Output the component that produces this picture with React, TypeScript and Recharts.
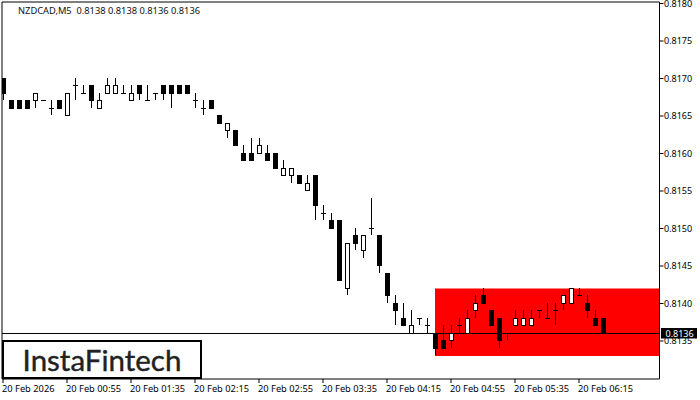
import { Bar, ComposedChart, ReferenceArea, ReferenceLine, XAxis, YAxis } from "recharts";

const opens = [
  0.8170, 0.8167, 0.8167, 0.8167, 0.8167, 0.8167, 0.8166, 0.8167, 0.8165, 0.8169,
  0.8168, 0.8169, 0.8166, 0.8168, 0.8168, 0.8168, 0.8167, 0.8169, 0.8167, 0.8168,
  0.8169, 0.8169, 0.8169, 0.8169, 0.8167, 0.8166, 0.8167, 0.8165, 0.8163, 0.8163,
  0.8160, 0.8160, 0.8160, 0.8160, 0.8160, 0.8157, 0.8157, 0.8157, 0.8155, 0.8157,
  0.8152, 0.8151, 0.8151, 0.8142, 0.8149, 0.8147, 0.8150, 0.8149, 0.8144, 0.8140,
  0.8138, 0.8136, 0.8138, 0.8137, 0.8136, 0.8135, 0.8135, 0.8137, 0.8136, 0.8139,
  0.8141, 0.8139, 0.8138, 0.8136, 0.8137, 0.8137, 0.8137, 0.8139, 0.8138, 0.8139,
  0.8140, 0.8140, 0.8141, 0.8140, 0.8138, 0.8138,
];
const highs = [
  0.8170, 0.8167, 0.8167, 0.8167, 0.8168, 0.8167, 0.8167, 0.8167, 0.8168, 0.8170,
  0.8169, 0.8169, 0.8168, 0.8170, 0.8170, 0.8169, 0.8169, 0.8169, 0.8169, 0.8168,
  0.8169, 0.8169, 0.8169, 0.8169, 0.8168, 0.8167, 0.8167, 0.8165, 0.8164, 0.8163,
  0.8161, 0.8162, 0.8162, 0.8161, 0.8160, 0.8159, 0.8158, 0.8157, 0.8157, 0.8157,
  0.8153, 0.8152, 0.8151, 0.8148, 0.8150, 0.8149, 0.8154, 0.8149, 0.8144, 0.8141,
  0.8140, 0.8139, 0.8138, 0.8138, 0.8136, 0.8137, 0.8137, 0.8138, 0.8139, 0.8141,
  0.8142, 0.8139, 0.8138, 0.8136, 0.8139, 0.8139, 0.8139, 0.8139, 0.8140, 0.8140,
  0.8141, 0.8142, 0.8142, 0.8141, 0.8139, 0.8138,
];
const lows = [
  0.8167, 0.8166, 0.8166, 0.8166, 0.8166, 0.8167, 0.8165, 0.8166, 0.8165, 0.8167,
  0.8168, 0.8166, 0.8166, 0.8168, 0.8168, 0.8168, 0.8167, 0.8167, 0.8167, 0.8167,
  0.8167, 0.8166, 0.8168, 0.8168, 0.8166, 0.8165, 0.8166, 0.8164, 0.8162, 0.8161,
  0.8159, 0.8159, 0.8160, 0.8159, 0.8158, 0.8157, 0.8156, 0.8156, 0.8155, 0.8151,
  0.8151, 0.8150, 0.8143, 0.8141, 0.8147, 0.8146, 0.8149, 0.8144, 0.8140, 0.8137,
  0.8137, 0.8136, 0.8137, 0.8136, 0.8133, 0.8134, 0.8134, 0.8136, 0.8136, 0.8138,
  0.8140, 0.8137, 0.8134, 0.8135, 0.8137, 0.8137, 0.8137, 0.8138, 0.8138, 0.8137,
  0.8139, 0.8140, 0.8141, 0.8138, 0.8137, 0.8136,
];
const closes = [
  0.8168, 0.8166, 0.8166, 0.8166, 0.8168, 0.8167, 0.8166, 0.8166, 0.8168, 0.8169,
  0.8168, 0.8167, 0.8167, 0.8169, 0.8169, 0.8168, 0.8168, 0.8168, 0.8167, 0.8168,
  0.8168, 0.8168, 0.8168, 0.8168, 0.8167, 0.8166, 0.8166, 0.8164, 0.8164, 0.8161,
  0.8159, 0.8159, 0.8161, 0.8159, 0.8158, 0.8158, 0.8158, 0.8156, 0.8156, 0.8153,
  0.8152, 0.8150, 0.8143, 0.8148, 0.8148, 0.8149, 0.8150, 0.8145, 0.8141, 0.8139,
  0.8137, 0.8137, 0.8138, 0.8137, 0.8134, 0.8134, 0.8136, 0.8137, 0.8138, 0.8140,
  0.8140, 0.8137, 0.8135, 0.8136, 0.8138, 0.8138, 0.8138, 0.8139, 0.8138, 0.8139,
  0.8141, 0.8142, 0.8141, 0.8139, 0.8137, 0.8136,
];

const timeTicks = [0, 8, 16, 24, 32, 40, 48, 56, 64, 72];
const timeLabels = [
  "20 Feb 2026", "20 Feb 00:55", "20 Feb 01:35", "20 Feb 02:15", "20 Feb 02:55",
  "20 Feb 03:35", "20 Feb 04:15", "20 Feb 04:55", "20 Feb 05:35", "20 Feb 06:15",
];
const priceTicks = [0.8135, 0.814, 0.8145, 0.815, 0.8155, 0.816, 0.8165, 0.817, 0.8175, 0.818];

const lastPrice = 0.8136;
const zoneTop = 0.8142;
const zoneBottom = 0.8133;
const zoneStart = 54;

// the x domain runs a bit past the last candle, same as the empty space in the terminal
const xMin = -0.125;
const xMax = 82.0625;
const yMin = 0.8129933;
const yMax = 0.81802;

const FONT = "'Noto Sans', sans-serif";

const rows = opens.map((o, i) => ({
  i,
  open: o,
  close: closes[i],
  high: highs[i],
  low: lows[i],
  range: [lows[i], highs[i]],
}));

/** Candle drawn from the high-low bar; body position comes from the bar's own price/pixel ratio. */
function Candle(props: any) {
  const { x, y, width, height, payload } = props;
  const { open, close, high, low } = payload;
  const span = high - low;
  const at = (p: number) => (span > 0 ? y + ((high - p) / span) * height : y);
  const cx = Math.round(x + width / 2);
  const top = Math.floor(at(Math.max(open, close)));
  const bottom = Math.floor(at(Math.min(open, close)));
  const up = close > open;
  return (
    <g shapeRendering="crispEdges">
      <line x1={cx + 0.5} x2={cx + 0.5} y1={Math.floor(y)} y2={Math.floor(y + height)} stroke="#000" />
      {open === close ? (
        <line x1={cx - 2} x2={cx + 3} y1={top + 0.5} y2={top + 0.5} stroke="#000" />
      ) : (
        <rect
          x={cx - 1.5}
          y={top + 0.5}
          width={4}
          height={bottom - top}
          fill={up ? "#fff" : "#000"}
          stroke="#000"
        />
      )}
    </g>
  );
}

function TimeTick({ x, y, payload }: any) {
  return (
    <text x={x - 1} y={y + 7} fontSize={9.3} fontFamily={FONT} fill="#000" textAnchor="start">
      {timeLabels[timeTicks.indexOf(payload.value)]}
    </text>
  );
}

function PriceTag({ viewBox }: any) {
  const right = viewBox.x + viewBox.width;
  const mid = viewBox.y;
  return (
    <g>
      <rect x={right + 1.5} y={mid - 5.5} width={36} height={10.5} fill="#000" />
      <text x={right + 6} y={mid + 3.5} fontSize={9} fontFamily={FONT} fill="#fff">
        {lastPrice.toFixed(4)}
      </text>
    </g>
  );
}

export default function App() {
  return (
    <div style={{ position: "absolute", left: 0, top: 0, width: 700, height: 400, background: "#fff", overflow: "hidden" }}>
      <ComposedChart
        width={700}
        height={400}
        data={rows}
        margin={{ top: 2, right: 0, bottom: 0, left: 2 }}
      >
        <XAxis
          type="number"
          dataKey="i"
          domain={[xMin, xMax]}
          ticks={timeTicks}
          tick={<TimeTick />}
          tickSize={4}
          interval={0}
          allowDataOverflow
          height={21}
          stroke="#000"
        />
        <YAxis
          orientation="right"
          domain={[yMin, yMax]}
          ticks={priceTicks}
          tickFormatter={(v: number) => v.toFixed(4)}
          tick={{ fontSize: 9, fontFamily: FONT, fill: "#000", dx: -1.5 }}
          tickSize={4}
          interval={0}
          allowDataOverflow
          width={40.5}
          stroke="#000"
        />
        <ReferenceLine x={xMin} stroke="#000" />
        <ReferenceLine y={yMax} stroke="#000" />
        <ReferenceArea x1={zoneStart} x2={xMax} y1={zoneBottom} y2={zoneTop} fill="#ff0000" fillOpacity={1} stroke="none" />
        <Bar dataKey="range" barSize={5} shape={<Candle />} isAnimationActive={false} />
        <ReferenceLine y={lastPrice} stroke="#000" label={<PriceTag />} />
      </ComposedChart>
      <div style={{ position: "absolute", left: 18, top: 4, fontFamily: FONT, fontSize: 9.3, color: "#111", whiteSpace: "pre" }}>
        {"NZDCAD,M5  0.8138 0.8138 0.8136 0.8136"}
      </div>
      <div
        style={{
          position: "absolute",
          left: 2,
          top: 340,
          width: 196,
          height: 35,
          border: "2px solid #000",
          background: "#fff",
          textAlign: "center",
          fontFamily: "Lato, sans-serif",
          fontSize: 29.5,
          lineHeight: "35px",
          color: "#222",
          WebkitTextStroke: "0.4px #222",
        }}
      >
        InstaFintech
      </div>
    </div>
  );
}
